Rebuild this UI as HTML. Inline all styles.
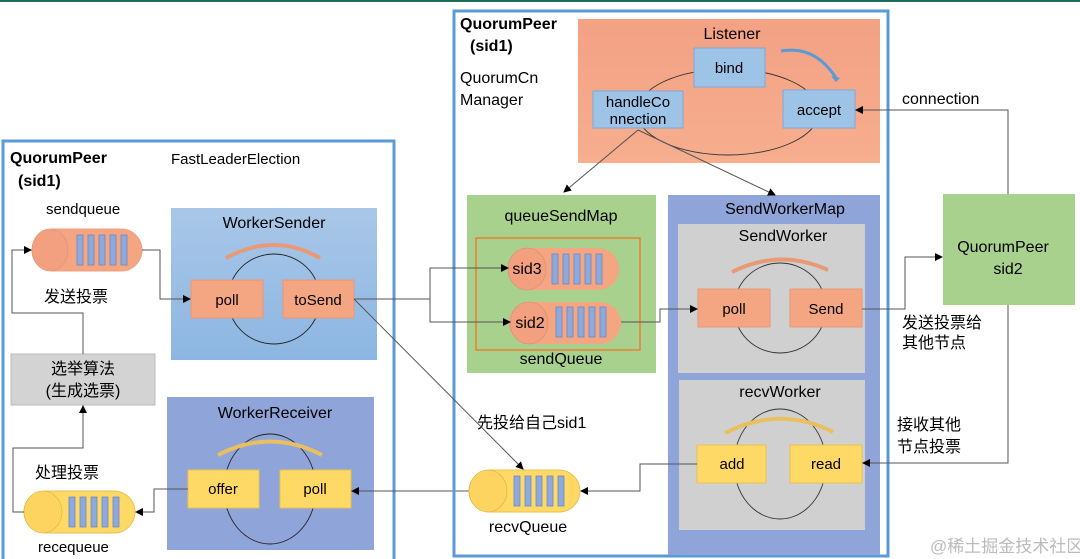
<!DOCTYPE html>
<html><head><meta charset="utf-8"><style>
body{margin:0;background:#fff}
svg{display:block;font-family:"Liberation Sans","Noto Sans CJK SC",sans-serif}
</style></head><body>
<svg width="1080" height="559" viewBox="0 0 1080 559" xmlns="http://www.w3.org/2000/svg">
<defs>
<marker id="a" markerWidth="8" markerHeight="8" refX="7" refY="4" orient="auto" markerUnits="userSpaceOnUse"><path d="M0,0 L8,4 L0,8z" fill="#000"/></marker>
<linearGradient id="gb" x1="0" y1="0" x2="0" y2="1"><stop offset="0" stop-color="#a9c7e8"/><stop offset="1" stop-color="#8cb6e2"/></linearGradient>
<linearGradient id="gs" x1="0" y1="0" x2="0" y2="1"><stop offset="0" stop-color="#f4a184"/><stop offset="1" stop-color="#f6ae8e"/></linearGradient>
<g id="bars" fill="#8ea9db" stroke="#6f87c0" stroke-width="0.8"><rect x="0" y="0" width="6" height="30"/><rect x="11" y="0" width="6" height="30"/><rect x="22" y="0" width="6" height="30"/><rect x="33" y="0" width="6" height="30"/><rect x="44" y="0" width="6" height="30"/></g>
</defs>
<rect x="0" y="0" width="1080" height="2" fill="#1f6b5a"/>

<rect x="3" y="141" width="391" height="420" fill="#fff" stroke="#5b9bd5" stroke-width="3"/>
<text x="10" y="163" font-size="16" font-weight="bold">QuorumPeer</text>
<text x="18" y="186" font-size="16" font-weight="bold">(sid1)</text>
<text x="171" y="164" font-size="15">FastLeaderElection</text>
<text x="46" y="214" font-size="15">sendqueue</text>

<rect x="32" y="229" width="110" height="42" rx="21" fill="#f4a582" stroke="#f0a080"/>
<ellipse cx="50" cy="250" rx="18" ry="21" fill="#f3a080" stroke="#e08e70" stroke-width="0.6"/>
<use href="#bars" x="77" y="235"/>
<text x="44" y="302" font-size="16">发送投票</text>

<rect x="171" y="208" width="206" height="152" fill="url(#gb)"/>
<text x="274" y="228" font-size="16" text-anchor="middle">WorkerSender</text>
<ellipse cx="274" cy="299" rx="46" ry="45" fill="none" stroke="#222" stroke-width="0.9"/>
<path d="M226,258 Q274,232 320,258" fill="none" stroke="#e89a76" stroke-width="4"/>
<rect x="191" y="280" width="72" height="38" fill="#f4a582" stroke="#e69878"/>
<text x="227" y="305" font-size="15" text-anchor="middle">poll</text>
<rect x="283" y="280" width="71" height="38" fill="#f4a582" stroke="#e69878"/>
<text x="318" y="305" font-size="15" text-anchor="middle">toSend</text>

<rect x="11" y="354" width="144" height="51" fill="#d3d3d3" stroke="#bbb"/>
<text x="83" y="374" font-size="16" text-anchor="middle">选举算法</text>
<text x="83" y="396" font-size="16" text-anchor="middle">(生成选票)</text>

<rect x="167" y="397" width="207" height="153" fill="#8fa4d9"/>
<text x="275" y="418" font-size="16" text-anchor="middle">WorkerReceiver</text>
<ellipse cx="270" cy="489" rx="46" ry="55" fill="none" stroke="#222" stroke-width="0.9"/>
<path d="M218,455 Q270,428 322,455" fill="none" stroke="#e8c060" stroke-width="4"/>
<rect x="188" y="470" width="71" height="38" fill="#ffd966" stroke="#e8c050"/>
<text x="223" y="494" font-size="15" text-anchor="middle">offer</text>
<rect x="280" y="470" width="71" height="38" fill="#ffd966" stroke="#e8c050"/>
<text x="315" y="494" font-size="15" text-anchor="middle">poll</text>

<text x="35" y="478" font-size="16">处理投票</text>
<rect x="24" y="491" width="111" height="42" rx="21" fill="#ffd966" stroke="#eac050"/>
<ellipse cx="43" cy="512" rx="19" ry="21" fill="#fdd460" stroke="#d8b040" stroke-width="0.6"/>
<use href="#bars" x="69" y="497"/>
<text x="38" y="552" font-size="15">recequeue</text>

<g fill="none" stroke="#555" stroke-width="1">
<path d="M142,250 H160 V299 H190" marker-end="url(#a)"/>
<path d="M83,354 V313 H12 V250 H31" marker-end="url(#a)"/>
<path d="M24,512 H13 V448 H83 V406" marker-end="url(#a)"/>
<path d="M188,489 H154 V512 H136" marker-end="url(#a)"/>
<path d="M469,491 H352" marker-end="url(#a)"/>
</g>

<rect x="454" y="11" width="434" height="545" fill="none" stroke="#5b9bd5" stroke-width="3"/>
<text x="460" y="29" font-size="16" font-weight="bold">QuorumPeer</text>
<text x="470" y="51" font-size="16" font-weight="bold">(sid1)</text>
<text x="460" y="83" font-size="16">QuorumCn</text>
<text x="460" y="105" font-size="16">Manager</text>

<rect x="578" y="19" width="302" height="144" fill="url(#gs)"/>
<text x="732" y="39" font-size="16" text-anchor="middle">Listener</text>
<ellipse cx="728" cy="112" rx="91" ry="43" fill="none" stroke="#333" stroke-width="0.9"/>
<path d="M781,51 Q815,45 836,78" fill="none" stroke="#5b9bd5" stroke-width="3"/>
<path d="M831,76 L840,78 L836,82z" fill="#5b9bd5"/>
<rect x="694" y="48" width="71" height="39" fill="#9dc3e6" stroke="#7fa9d6"/>
<text x="729" y="73" font-size="15" text-anchor="middle">bind</text>
<rect x="593" y="91" width="90" height="37" fill="#9dc3e6" stroke="#7fa9d6"/>
<text x="638" y="107" font-size="15" text-anchor="middle">handleCo</text>
<text x="638" y="124" font-size="15" text-anchor="middle">nnection</text>
<rect x="783" y="90" width="72" height="38" fill="#9dc3e6" stroke="#7fa9d6"/>
<text x="819" y="115" font-size="15" text-anchor="middle">accept</text>

<rect x="467" y="195" width="189" height="178" fill="#a9d18e"/>
<text x="561" y="221" font-size="16" text-anchor="middle">queueSendMap</text>
<rect x="476" y="238" width="164" height="112" fill="none" stroke="#ed7d31" stroke-width="1.5"/>
<rect x="508" y="248" width="111" height="42" rx="21" fill="#f4a582"/>
<ellipse cx="527" cy="269" rx="19" ry="21" fill="#f3a080" stroke="#d98a6c" stroke-width="0.6"/>
<use href="#bars" x="552" y="254"/>
<text x="527" y="274" font-size="16" text-anchor="middle">sid3</text>
<rect x="509" y="302" width="112" height="42" rx="21" fill="#f4a582"/>
<ellipse cx="529" cy="323" rx="19" ry="21" fill="#f3a080" stroke="#d98a6c" stroke-width="0.6"/>
<use href="#bars" x="556" y="307"/>
<text x="530" y="328" font-size="16" text-anchor="middle">sid2</text>
<text x="561" y="364" font-size="16" text-anchor="middle">sendQueue</text>

<rect x="668" y="195" width="212" height="360" fill="#8fa4d9"/>
<text x="785" y="214" font-size="16" text-anchor="middle">SendWorkerMap</text>
<rect x="678" y="224" width="187" height="149" fill="#d0d0d0"/>
<text x="783" y="241" font-size="16" text-anchor="middle">SendWorker</text>
<ellipse cx="780" cy="308" rx="46" ry="45" fill="none" stroke="#333" stroke-width="0.9"/>
<path d="M732,272 Q780,248 828,270" fill="none" stroke="#e89a76" stroke-width="4"/>
<rect x="698" y="289" width="72" height="38" fill="#f4a582" stroke="#e69878"/>
<text x="734" y="314" font-size="15" text-anchor="middle">poll</text>
<rect x="790" y="289" width="72" height="38" fill="#f4a582" stroke="#e69878"/>
<text x="826" y="314" font-size="15" text-anchor="middle">Send</text>

<rect x="679" y="380" width="186" height="150" fill="#d0d0d0"/>
<text x="780" y="397" font-size="16" text-anchor="middle">recvWorker</text>
<ellipse cx="780" cy="464" rx="46" ry="55" fill="none" stroke="#333" stroke-width="0.9"/>
<path d="M725,433 Q780,405 833,432" fill="none" stroke="#e8c060" stroke-width="4"/>
<rect x="697" y="445" width="69" height="38" fill="#ffd966" stroke="#e8c050"/>
<text x="732" y="469" font-size="15" text-anchor="middle">add</text>
<rect x="790" y="445" width="72" height="38" fill="#ffd966" stroke="#e8c050"/>
<text x="826" y="469" font-size="15" text-anchor="middle">read</text>

<text x="477" y="428" font-size="16">先投给自己sid1</text>
<rect x="469" y="470" width="111" height="42" rx="21" fill="#ffd966" stroke="#eac050"/>
<ellipse cx="488" cy="491" rx="19" ry="21" fill="#fdd460" stroke="#d8b040" stroke-width="0.6"/>
<use href="#bars" x="514" y="476"/>
<text x="528" y="532" font-size="16" text-anchor="middle">recvQueue</text>

<rect x="943" y="194" width="132" height="111" fill="#a9d18e"/>
<text x="1003" y="252" font-size="16" text-anchor="middle">QuorumPeer</text>
<text x="1008" y="274" font-size="16" text-anchor="middle">sid2</text>
<text x="902" y="104" font-size="16">connection</text>
<text x="902" y="328" font-size="16">发送投票给</text>
<text x="902" y="348" font-size="16">其他节点</text>
<text x="897" y="430" font-size="16">接收其他</text>
<text x="897" y="452" font-size="16">节点投票</text>

<g fill="none" stroke="#555" stroke-width="1">
<path d="M354,299 H430 V268 H508" marker-end="url(#a)"/>
<path d="M430,299 V322 H510" marker-end="url(#a)"/>
<path d="M354,299 L523,469" marker-end="url(#a)"/>
<path d="M638,130 L564,192" marker-end="url(#a)"/>
<path d="M638,130 L775,195" marker-end="url(#a)"/>
<path d="M697,464 H640 V491 H581" marker-end="url(#a)"/>
<path d="M621,322 H660 V309 H697" marker-end="url(#a)"/>
<path d="M1008,194 V110 H856" marker-end="url(#a)"/>
<path d="M862,309 H905 V257 H942" marker-end="url(#a)"/>
<path d="M1008,305 V463 H863" marker-end="url(#a)"/>
</g>
<text x="930" y="552" font-size="17" fill="#bbb">@稀土掘金技术社区</text>
</svg>
</body></html>
